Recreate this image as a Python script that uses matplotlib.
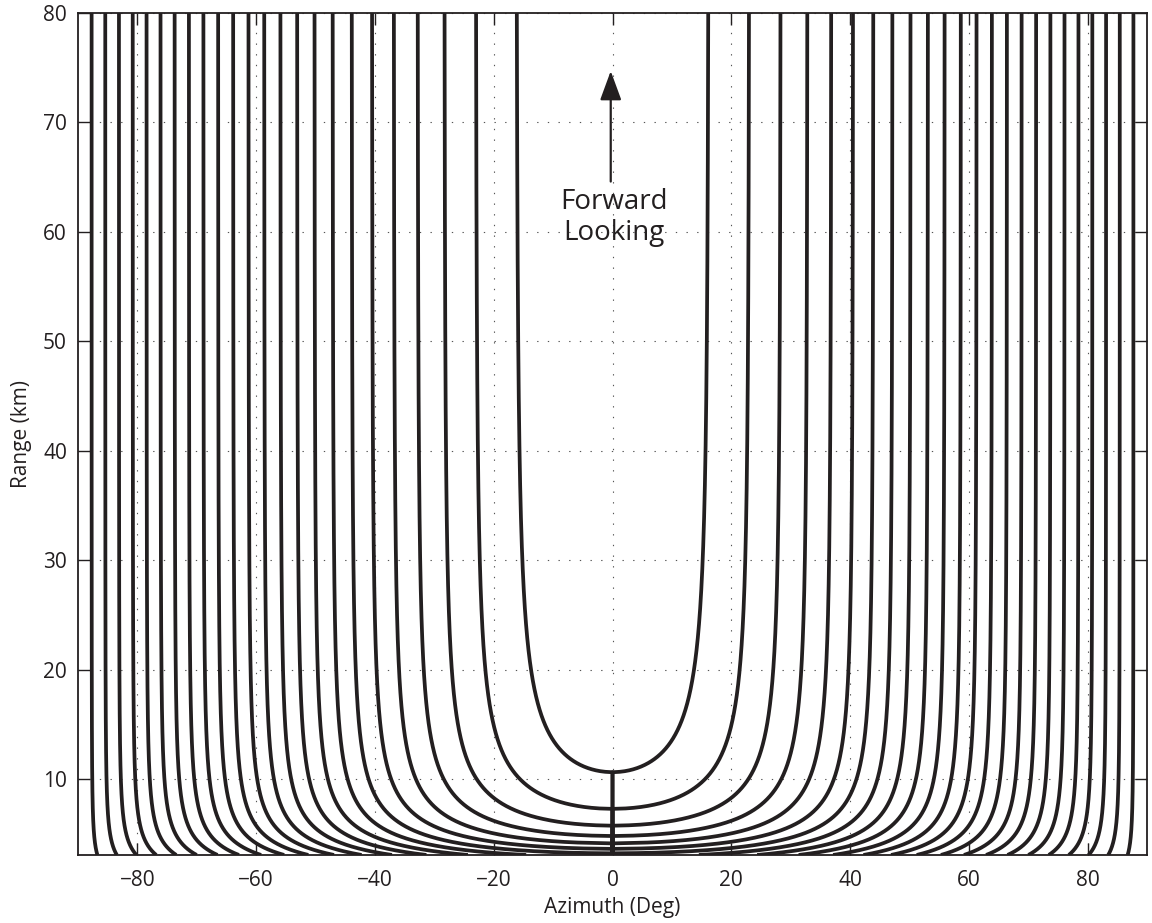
import matplotlib
matplotlib.use("Agg")
import matplotlib.pyplot as plt
import numpy as np

plt.rcParams['font.family'] = ['Open Sans', 'DejaVu Sans']

# iso-Doppler levels (cosine of the far-range cone angle), read from the asymptotes
doppler_levels = [0.96, 0.92, 0.88, 0.84, 0.80, 0.76, 0.72, 0.68, 0.64, 0.60, 0.56, 0.52,
                  0.48, 0.44, 0.40, 0.36, 0.32, 0.28, 0.24, 0.20, 0.16, 0.12, 0.08, 0.04]
altitude_km = 3.1
range_limits = [3.06, 80]
x_ticks = [-80, -60, -40, -20, 0, 20, 40, 60, 80]
y_ticks = [10, 20, 30, 40, 50, 60, 70, 80]

line_col = '#231f20'

fig = plt.figure(figsize=(11.52, 9.23), dpi=100)
ax = fig.add_axes([0.0677, 0.0737, 0.9280, 0.9122])

# range samples and cosine of depression angle
rng = np.linspace(range_limits[0], range_limits[1], 4000)
cos_el = rng / np.sqrt(rng ** 2 + altitude_km ** 2)

for c in doppler_levels:
    az = np.degrees(np.arccos(np.clip(c / cos_el, -1, 1)))
    ax.plot(az, rng, color=line_col, lw=2.7, solid_capstyle='butt')
    ax.plot(-az, rng, color=line_col, lw=2.7, solid_capstyle='butt')

ax.set_xlim(-90, 90)
ax.set_ylim(range_limits)
ax.set_xticks(x_ticks)
ax.set_yticks(y_ticks)

ax.grid(True, color='#555555', linestyle=(0, (1.2, 8.4)), linewidth=0.8)
ax.tick_params(direction='in', length=8.6, width=1.0, top=True, right=True,
               labelsize=15, colors=line_col, pad=8)
ax.tick_params(axis='x', pad=11)
for s in ax.spines.values():
    s.set_linewidth(1.3)
    s.set_color(line_col)

ax.set_xlabel('Azimuth (Deg)', fontsize=15, color=line_col, labelpad=4)
ax.set_ylabel('Range (km)', fontsize=15, color=line_col, labelpad=8)

# forward looking annotation
ax.annotate('', xy=(-0.3, 74.7), xytext=(-0.3, 64.6),
            arrowprops=dict(arrowstyle='-|>,head_length=0.9,head_width=0.33',
                            mutation_scale=20, color=line_col, lw=1.6,
                            shrinkA=0, shrinkB=0))
ax.text(0.3, 64.0, 'Forward\nLooking', ha='center', va='top', fontsize=20,
        color=line_col, linespacing=1.15)

fig.savefig('out.png', dpi=100)
